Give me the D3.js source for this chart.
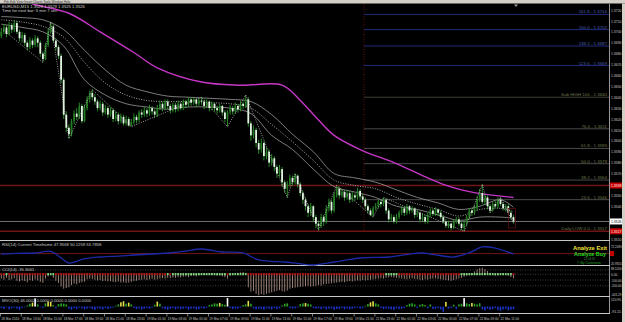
<!DOCTYPE html>
<html><head><meta charset="utf-8">
<script src="https://cdn.jsdelivr.net/npm/d3@7"></script>
<style>
html,body{margin:0;padding:0;background:#000;overflow:hidden;}
svg{display:block;}
text{font-family:"Liberation Sans",Arial,sans-serif;}
</style></head><body>
<svg id="c" width="625" height="322"></svg>
<script>
// ---- DATA (prices stored as pips above 1.3500) ----
const BASE = 1.35;
const opens = [196,200,204,198,206,202,208,200,194,197,190,186,192,188,194,190,180,175,188,200,205,192,186,178,156,124,112,106,118,125,122,132,118,130,138,144,140,136,130,134,126,130,124,128,120,124,118,122,116,120,114,117,122,119,126,124,128,125,130,127,124,130,134,130,136,132,128,133,129,134,130,136,133,138,135,138,134,137,136,132,136,130,134,130,128,132,126,120,126,130,127,132,129,134,132,138,116,105,110,98,92,98,86,90,80,84,76,70,74,62,56,60,66,62,68,60,52,46,40,34,40,30,24,22,30,26,38,44,36,50,56,50,53,48,52,46,50,48,54,49,46,40,36,32,38,40,44,42,46,36,28,30,26,30,34,38,34,40,36,38,32,34,28,30,26,32,36,33,37,34,30,26,22,24,20,26,28,24,20,24,30,36,34,38,46,52,44,48,40,36,42,40,46,42,38,40,34,30];
const highs = [203,207,206,209,208,211,210,202,200,199,192,195,194,197,196,192,182,190,203,209,207,194,188,180,158,127,115,120,128,130,135,134,133,141,146,147,143,138,137,136,133,132,131,130,127,126,125,124,123,122,120,125,124,128,129,131,130,133,132,129,133,137,136,138,138,134,135,135,137,136,138,138,140,140,140,139,139,140,138,138,137,136,135,132,134,133,128,128,133,132,135,134,137,136,142,140,118,114,112,101,102,100,94,92,88,86,78,78,76,64,63,69,68,70,69,62,54,48,42,43,41,32,27,33,32,41,47,46,53,59,58,56,55,55,54,53,52,57,56,51,48,42,38,40,43,46,46,48,47,38,33,32,33,36,40,40,42,41,40,39,37,35,33,32,34,38,38,39,38,36,32,28,27,25,28,30,30,26,27,32,38,38,41,49,56,60,51,50,42,44,45,48,48,44,42,42,36,32];
const lows = [194,198,195,197,199,200,198,191,190,187,183,184,185,186,186,177,172,174,186,198,190,183,175,153,120,108,102,104,115,119,120,116,117,128,135,137,133,127,128,123,124,121,122,117,118,115,116,114,114,113,113,115,116,117,121,122,122,123,124,121,122,128,127,128,129,125,126,126,127,128,128,130,131,132,133,131,132,133,129,130,127,128,127,125,126,123,117,113,124,124,125,126,127,129,130,113,100,102,94,88,89,82,83,76,77,72,66,67,58,52,48,58,59,60,57,49,42,36,30,31,26,20,18,20,22,24,35,33,34,48,47,48,45,46,43,44,45,46,46,43,37,33,31,30,36,38,39,40,33,25,26,24,24,28,32,31,32,33,34,29,30,25,26,24,24,30,31,31,31,28,24,20,20,18,19,24,22,18,17,22,28,31,32,36,44,42,41,37,34,35,38,38,40,36,35,32,28,24];
const closes = [200,204,198,206,202,208,200,194,197,190,186,192,188,194,190,180,175,188,200,205,192,186,178,156,124,112,106,118,125,122,132,118,130,138,144,140,136,130,134,126,130,124,128,120,124,118,122,116,120,114,117,122,119,126,124,128,125,130,127,124,130,134,130,136,132,128,133,129,134,130,136,133,138,135,138,134,137,136,132,136,130,134,130,128,132,126,120,126,130,127,132,129,134,132,138,116,105,110,98,92,98,86,90,80,84,76,70,74,62,56,60,66,62,68,60,52,46,40,34,40,30,24,22,30,26,38,44,36,50,56,50,53,48,52,46,50,48,54,49,46,40,36,32,38,40,44,42,46,36,28,30,26,30,34,38,34,40,36,38,32,34,28,30,26,32,36,33,37,34,30,26,22,24,20,26,28,24,20,24,30,36,34,38,46,52,44,48,40,36,42,40,46,42,38,40,34,30,26];

const bandBars = [0,8,16,24,32,40,48,56,64,72,80,88,96,104,112,120,128,136,144,152,160,168,176,184,192,197];
const bandUpper = [214,213,211,202,183,165,151,145,141,140,139,138,136,124,106,90,70,66,62,55,48,43,37,40,46,39];
const bandMid   = [211,209,205,195,172,153,142,137,136,136,135,134,130,115,99,82,64,59,56,48,42,37,31,37,38,35];
const bandLower = [207,204,200,187,156,142,134,131,129,131,131,130,125,105,92,74,58,53,48,40,37,32,27,30,30,29];

const maBars = [8,13,26,38,51,60,77,92,108,115,122,128,138,151,164,170,177,183,197];
const maVals = [229,225,217,200,181,167,154,151,151,137,119,105,92,80,66,60,55,52,48];

const zzBars = [0,16,19,26,35,50,77,87,94,110,113,122,129,143,147,178,185,188,192,197];
const zzVals = [203,172,209,102,147,113,140,113,142,48,70,18,59,30,48,17,60,34,48,24];

const fibVals  = [46,64,79,93,111,140,169,187,202,216];
const fibNames = ["23.6","38.2","50.0","61.8","76.4","Sub HIGH 100","123.6","138.2","150.0","161.8"];
const fibAnchorBar = 140;
const dailyLow = 17, redLevel = 59, bidLevel = 26;

const priceTicks = d3.range(220, 9, -10);

const rsiBars = [0,6,13,19,23,26,32,38,45,51,58,64,70,77,85,93,99,104,109,114,120,128,138,149,157,162,168,174,180,185,190,197];
const rsiVals = [48.9,50.5,51.3,55,40,28,38,42,44,46.6,49,51.3,55,60.6,53.6,51.3,35,32,30.3,27,23.3,30.3,39.6,42,48.9,51.3,46,42,52,65.3,62.9,48.9];

const cci = [-60,-75,-50,-80,-70,-55,-90,-100,-85,-95,-110,-80,-90,-70,-85,-105,-120,-60,-30,-10,-50,-90,-120,-170,-200,-190,-180,-150,-130,-140,-120,-110,-100,-70,-60,-65,-75,-85,-80,-95,-90,-100,-95,-105,-110,-100,-115,-110,-120,-115,-105,-95,-90,-80,-75,-70,-80,-70,-65,-75,-70,-60,-55,-60,-50,-55,-45,-50,-40,-45,-35,-30,-40,-25,-20,-30,-15,-10,5,-5,10,15,-10,-20,-15,-30,-40,-60,-20,-5,10,20,25,30,15,-180,-240,-230,-270,-290,-275,-285,-270,-260,-250,-240,-230,-220,-235,-240,-225,-200,-190,-185,-180,-175,-170,-165,-160,-170,-165,-160,-150,-155,-140,-135,-130,-125,-120,-115,-110,-105,-110,-100,-95,-100,-90,-85,-90,-80,-85,-80,-75,-70,-65,-60,-55,-60,-50,-45,-40,-45,-50,-55,-60,-65,-70,-60,-55,-65,-70,-75,-80,-70,-75,-65,-60,-55,-65,-70,-75,-80,-85,-90,-80,-70,-60,-50,-35,-20,-5,15,40,65,85,90,70,45,20,-10,-20,-15,10,15,5,-20,-40,-55];
const cciLevels = [60,0,-80,-160];

const mvo = [-20,-35,-10,-40,-25,-15,-30,-45,-20,-10,15,40,55,115,30,-10,-20,45,70,65,20,-25,35,45,40,30,-30,-45,-20,-35,-15,-25,-40,-30,-20,-35,-45,-25,-30,-40,-20,-35,-25,-15,10,30,60,75,40,55,30,-20,-35,-25,-40,-30,-20,-30,-15,25,70,40,-25,-35,-45,-30,-20,-40,-25,-35,-30,-20,-45,-30,-25,-40,-35,-20,-30,-15,20,30,45,40,50,35,25,120,-20,-35,-25,-30,-15,20,30,80,40,-25,-40,-30,-35,-45,-25,-30,-40,-20,-35,-25,15,40,45,-20,-30,-25,-15,35,45,50,40,30,-20,-30,-25,-35,-20,-40,-30,-25,-45,-35,-30,-20,-40,-25,-35,-30,-20,-15,-30,-25,10,35,60,75,45,30,-20,-35,-25,-30,-40,-45,-25,-35,-30,-20,20,40,45,30,-20,25,35,20,-25,30,-35,-30,-20,-40,-75,65,-30,-20,25,-35,30,40,120,45,35,50,40,30,45,-40,-55,-30,-45,-35,-20,-50,-60,-40,-30,-55,-45,-35];

const timeLabels = ["18 Mar 2010","18 Mar 13:00","18 Mar 15:00","18 Mar 17:00","18 Mar 19:00","18 Mar 21:00","18 Mar 23:00","19 Mar 01:00","19 Mar 03:00","19 Mar 05:00","19 Mar 07:00","19 Mar 09:00","19 Mar 11:00","19 Mar 13:00","19 Mar 15:00","19 Mar 17:00","19 Mar 19:00","19 Mar 21:00","21 Mar 23:00","22 Mar 01:00","22 Mar 03:00","22 Mar 05:00","22 Mar 07:00","22 Mar 09:00","22 Mar 11:00"];
const labelEvery = 8;

// ---- LAYOUT ----
const W = 625, H = 322, R = 609;
const svg = d3.select('#c');
svg.append('rect').attr('width', W).attr('height', H).attr('fill', '#000');
const N = closes.length;
const xs = d3.scaleLinear().domain([0, 197]).range([1.3, 513.5]);
const bw = xs(1) - xs(0);
const ys = d3.scaleLinear().domain([220, 9]).range([10, 240]);
const fmtP = v => (BASE + v / 10000).toFixed(4);
const fitText = (sel, len) => sel.attr('textLength', len).attr('lengthAdjust', 'spacingAndGlyphs');

svg.append('defs').append('clipPath').attr('id', 'mc')
  .append('rect').attr('x', 0).attr('y', 4).attr('width', R).attr('height', 236);
const main = svg.append('g').attr('clip-path', 'url(#mc)');

// fib lines
const fibColor = i => i >= 6 ? '#1f2d7a' : (i === 5 ? '#3a4030' : '#4a4a4a');
const fibText = i => i >= 6 ? '#4a5fb0' : '#6e7a4a';
main.append('line').attr('x1', xs(fibAnchorBar) - bw / 2).attr('x2', xs(fibAnchorBar) - bw / 2)
  .attr('y1', 4).attr('y2', ys(dailyLow)).attr('stroke', '#7a1818').attr('stroke-width', 0.8).attr('stroke-dasharray', '1,1.5');
fibVals.forEach((v, i) => {
  main.append('line').attr('x1', xs(fibAnchorBar) - bw / 2).attr('x2', R)
    .attr('y1', ys(v)).attr('y2', ys(v)).attr('stroke', fibColor(i)).attr('stroke-width', 1);
  main.append('text').attr('x', 607).attr('y', ys(v) - 1).attr('text-anchor', 'end')
    .attr('font-size', 4.4).attr('fill', fibText(i)).text(fibNames[i] + ' - ' + fmtP(v));
});
// horizontal levels
[[redLevel, '#6e1414', 1.6], [dailyLow, '#6e1414', 1.6], [bidLevel, '#8c8c8c', 0.8]].forEach(([v, c, w]) => {
  main.append('line').attr('x1', 0).attr('x2', R).attr('y1', ys(v)).attr('y2', ys(v)).attr('stroke', c).attr('stroke-width', w);
});
main.append('text').attr('x', 607).attr('y', ys(dailyLow) - 1.5).attr('text-anchor', 'end')
  .attr('font-size', 4.4).attr('fill', '#6e7a4a').text('Daily LOW 0.0 - ' + fmtP(dailyLow));

// bands & MA
const curve = d3.curveCatmullRom.alpha(0.5);
const bandLine = vals => d3.line().curve(curve).x((d, i) => xs(bandBars[i])).y(d => ys(d))(vals);
main.append('path').attr('d', bandLine(bandUpper)).attr('fill', 'none').attr('stroke', '#9a9a9a').attr('stroke-width', 0.8);
main.append('path').attr('d', bandLine(bandMid)).attr('fill', 'none').attr('stroke', '#d0d0d0').attr('stroke-width', 0.8).attr('stroke-dasharray', '1,1.5');
main.append('path').attr('d', bandLine(bandLower)).attr('fill', 'none').attr('stroke', '#9a9a9a').attr('stroke-width', 0.8);
main.append('path').attr('d', d3.line().curve(curve).x((d, i) => xs(maBars[i])).y(d => ys(d))(maVals))
  .attr('fill', 'none').attr('stroke', '#c637c6').attr('stroke-width', 1.4);

// candles
const idx = d3.range(N);
main.append('g').selectAll('line').data(idx).join('line')
  .attr('x1', i => xs(i)).attr('x2', i => xs(i)).attr('y1', i => ys(highs[i])).attr('y2', i => ys(lows[i]))
  .attr('stroke', '#33a833').attr('stroke-width', 0.8);
main.append('g').selectAll('rect').data(idx).join('rect')
  .attr('x', i => xs(i) - 0.9).attr('width', 1.8)
  .attr('y', i => ys(Math.max(opens[i], closes[i])))
  .attr('height', i => Math.max(0.6, Math.abs(ys(opens[i]) - ys(closes[i]))))
  .attr('fill', i => closes[i] >= opens[i] ? '#237a23' : '#e2f2e2');

// zigzag
main.append('path').attr('d', d3.line().x((d, i) => xs(zzBars[i])).y(d => ys(d))(zzVals))
  .attr('fill', 'none').attr('stroke', '#d8d8d8').attr('stroke-width', 0.7).attr('stroke-dasharray', '1,1.4');

// small box at last bars
main.append('rect').attr('x', xs(195)).attr('y', ys(38)).attr('width', xs(197) - xs(195) + 2).attr('height', ys(20) - ys(38))
  .attr('fill', 'none').attr('stroke', '#5a1010').attr('stroke-width', 0.8);

// shift marker
svg.append('path').attr('d', 'M514,4.5 L518,4.5 L516,7 Z').attr('fill', '#9a9a9a');

// title
svg.append('text').attr('x', 2).attr('y', 7.6).attr('font-size', 4.2).attr('fill', '#d0d0d0')
  .text('EURUSD,M15  ' + [28, 29, 25, 26].map(fmtP).join(' '));
svg.append('text').attr('x', 2).attr('y', 11.8).attr('font-size', 4.2).attr('fill', '#d0d0d0')
  .text('Time for next bar: 5 min 7 sec');

// price axis
svg.append('line').attr('x1', R + 0.5).attr('x2', R + 0.5).attr('y1', 4).attr('y2', 314).attr('stroke', '#bdbdbd').attr('stroke-width', 0.8);
const special = [[redLevel, '#c80000', '#fff'], [dailyLow, '#c80000', '#fff'], [bidLevel, '#ffffff', '#000']];
priceTicks.filter(v => special.every(s => Math.abs(ys(s[0]) - ys(v)) > 5.5)).forEach(v => {
  fitText(svg.append('text').attr('x', 611).attr('y', ys(v) + 1.6).attr('font-size', 4.4).attr('fill', '#c8c8c8').text(fmtP(v)), 10.5);
});
special.forEach(([v, bg, fg]) => {
  svg.append('rect').attr('x', R + 1).attr('y', ys(v) - 3).attr('width', 12).attr('height', 6).attr('fill', bg);
  fitText(svg.append('text').attr('x', 611).attr('y', ys(v) + 1.6).attr('font-size', 4.4).attr('fill', fg).text(fmtP(v)), 10.5);
});

// panel separators
[240.5, 265.5, 296.5, 313.5].forEach(y => svg.append('line').attr('x1', 0).attr('x2', R + 1).attr('y1', y).attr('y2', y).attr('stroke', '#c8c8c8').attr('stroke-width', 1));

// Panel A (RSI)
const ya = d3.scaleLinear().domain([20.99, 72.25]).range([266, 244]);
svg.append('line').attr('x1', 0).attr('x2', R).attr('y1', ya(50)).attr('y2', ya(50)).attr('stroke', '#8a1a1a').attr('stroke-width', 0.8);
svg.append('path').attr('d', d3.line().curve(curve).x((d, i) => xs(rsiBars[i])).y(d => ya(d))(rsiVals))
  .attr('fill', 'none').attr('stroke', '#1c2aa8').attr('stroke-width', 1.3);
svg.append('text').attr('x', 2).attr('y', 246).attr('font-size', 4.2).attr('fill', '#c8c8c8')
  .text('RSI(14) Current Timeframe 47.9568 50.1259 53.7858');
fitText(svg.append('text').attr('x', 611).attr('y', 248).attr('font-size', 4.2).attr('fill', '#c8c8c8').text('72.2495'), 10.5);
fitText(svg.append('text').attr('x', 611).attr('y', 264.5).attr('font-size', 4.2).attr('fill', '#c8c8c8').text('20.9924'), 10.5);
svg.append('rect').attr('x', R + 1).attr('y', ya(50) - 2.5).attr('width', 4).attr('height', 5).attr('fill', '#c80000');
fitText(svg.append('text').attr('x', 573).attr('y', 250).attr('font-size', 6.2).attr('font-weight', 'bold').attr('fill', '#f2e33a').text('Analyze Exit'), 34);
fitText(svg.append('text').attr('x', 574).attr('y', 256.3).attr('font-size', 6.2).attr('font-weight', 'bold').attr('fill', '#22dd22').text('Analyze Buy'), 32);
svg.append('text').attr('x', 584).attr('y', 259.6).attr('font-size', 2.8).attr('fill', '#4a8a4a').text('22:54:18');
fitText(svg.append('text').attr('x', 577).attr('y', 264).attr('font-size', 3.2).attr('fill', '#22a022').text('© By Coinstone'), 24);

// Panel B (CCI)
const yb = d3.scaleLinear().domain([-300, 100]).range([296, 267]);
cciLevels.forEach(v => svg.append('line').attr('x1', 0).attr('x2', R).attr('y1', yb(v)).attr('y2', yb(v))
  .attr('stroke', '#6a6a6a').attr('stroke-width', 0.6).attr('stroke-dasharray', '1,1.5'));
svg.append('g').selectAll('line').data(idx).join('line')
  .attr('x1', i => xs(i)).attr('x2', i => xs(i)).attr('y1', yb(0)).attr('y2', i => yb(cci[i]))
  .attr('stroke', '#d2b2a2').attr('stroke-width', 0.7);
svg.append('g').selectAll('rect').data(idx).join('rect')
  .attr('x', i => xs(i) - 0.9).attr('width', 1.8).attr('y', yb(0) - 1.2).attr('height', 2.2)
  .attr('fill', i => cci[i] < -50 ? '#b01818' : '#7fd07f');
svg.append('text').attr('x', 2).attr('y', 270.5).attr('font-size', 4.2).attr('fill', '#c8c8c8').text('CCI(14) -35.3061');
[['88.5200', 269.8], ['0.00', 275.8], ['-100.00', 281.5], ['-200.00', 287.2], ['-441.29', 295.5]].forEach(([t, y]) =>
  fitText(svg.append('text').attr('x', 611).attr('y', y).attr('font-size', 4).attr('fill', '#c8c8c8').text(t), Math.min(10.5, t.length * 1.6)));

// Panel C (MVO)
const yc = d3.scaleLinear().domain([-91.15, 120.95]).range([313, 298]);
const mvoColor = v => v < 0 ? '#1a34c8' : v < 50 ? '#2aa82a' : v < 100 ? '#e6e04a' : '#ffffff';
svg.append('g').selectAll('rect').data(idx).join('rect')
  .attr('x', i => xs(i) - 0.8).attr('width', 1.6)
  .attr('y', i => Math.min(yc(0), yc(mvo[i]))).attr('height', i => Math.abs(yc(mvo[i]) - yc(0)))
  .attr('fill', i => mvoColor(mvo[i]));
svg.append('text').attr('x', 2).attr('y', 301.5).attr('font-size', 4.2).attr('fill', '#c8c8c8').text('MVO(30) 46.0002 0.0000 0.0000 0.0000 0.0000');
fitText(svg.append('text').attr('x', 611).attr('y', 301).attr('font-size', 4).attr('fill', '#c8c8c8').text('120.95'), 10);
fitText(svg.append('text').attr('x', 611).attr('y', 312.5).attr('font-size', 4).attr('fill', '#c8c8c8').text('-91.15'), 10);

// time axis
timeLabels.forEach((t, k) => {
  const bx = xs(k * labelEvery) - bw / 2;
  svg.append('line').attr('x1', bx + 0.5).attr('x2', bx + 0.5).attr('y1', 314).attr('y2', 316.5).attr('stroke', '#c8c8c8').attr('stroke-width', 0.6);
  svg.append('text').attr('x', bx + 1.3).attr('y', 319.8).attr('font-size', 3.2).attr('fill', '#c8c8c8').text(t);
});

// window chrome
svg.append('rect').attr('x', 0).attr('y', 0).attr('width', W).attr('height', 3.5).attr('fill', '#d4d0c8');
svg.append('text').attr('x', 4).attr('y', 3).attr('font-size', 3.2).attr('fill', '#333')
  .text('File    Edit    View    Insert    Charts    Tools    Window    Help');
svg.append('rect').attr('x', 622).attr('y', 3.5).attr('width', 3).attr('height', H).attr('fill', '#d4d0c8');
</script>
</body></html>
